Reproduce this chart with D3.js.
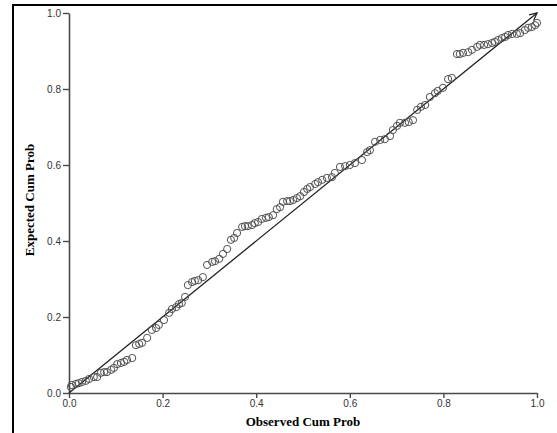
<!DOCTYPE html>
<html>
<head>
<meta charset="utf-8">
<script src="https://cdn.jsdelivr.net/npm/d3@7"></script>
<style>
  body { margin: 0; background: #fff; }
  svg { display: block; }
</style>
</head>
<body>
<div id="chart"></div>
<script>
var w = 557, h = 433;

// observed cumulative probability (x) and expected cumulative probability (y)
var obsProb = [0.004, 0.006, 0.015, 0.021, 0.028, 0.036, 0.043, 0.053, 0.060, 0.068,
  0.075, 0.081, 0.090, 0.096, 0.103, 0.111, 0.118, 0.124, 0.135, 0.143,
  0.150, 0.156, 0.167, 0.177, 0.186, 0.192, 0.203, 0.214, 0.220, 0.229,
  0.235, 0.241, 0.248, 0.254, 0.263, 0.269, 0.276, 0.286, 0.295, 0.306,
  0.312, 0.321, 0.329, 0.338, 0.346, 0.353, 0.359, 0.370, 0.376, 0.382,
  0.391, 0.397, 0.404, 0.412, 0.421, 0.427, 0.436, 0.444, 0.451, 0.457,
  0.466, 0.472, 0.479, 0.487, 0.494, 0.502, 0.509, 0.515, 0.526, 0.532,
  0.541, 0.551, 0.562, 0.568, 0.579, 0.590, 0.600, 0.611, 0.626, 0.637,
  0.643, 0.654, 0.665, 0.675, 0.686, 0.692, 0.701, 0.707, 0.718, 0.726,
  0.735, 0.744, 0.752, 0.761, 0.771, 0.782, 0.788, 0.799, 0.810, 0.818,
  0.829, 0.835, 0.842, 0.853, 0.861, 0.872, 0.878, 0.887, 0.895, 0.904,
  0.910, 0.917, 0.925, 0.932, 0.938, 0.947, 0.957, 0.964, 0.974, 0.981,
  0.989, 0.996, 1.000];
var expProb = [0.016, 0.021, 0.024, 0.026, 0.029, 0.032, 0.037, 0.042, 0.042, 0.053,
  0.055, 0.055, 0.061, 0.066, 0.076, 0.079, 0.082, 0.087, 0.092, 0.126,
  0.129, 0.132, 0.145, 0.166, 0.171, 0.179, 0.192, 0.211, 0.221, 0.226,
  0.234, 0.237, 0.253, 0.284, 0.292, 0.295, 0.297, 0.305, 0.337, 0.345,
  0.347, 0.353, 0.366, 0.379, 0.403, 0.408, 0.421, 0.437, 0.439, 0.439,
  0.442, 0.447, 0.450, 0.458, 0.461, 0.463, 0.468, 0.484, 0.489, 0.503,
  0.505, 0.505, 0.508, 0.513, 0.518, 0.529, 0.537, 0.542, 0.550, 0.555,
  0.561, 0.566, 0.568, 0.579, 0.595, 0.597, 0.600, 0.605, 0.613, 0.634,
  0.639, 0.661, 0.666, 0.668, 0.676, 0.692, 0.703, 0.711, 0.711, 0.713,
  0.718, 0.745, 0.753, 0.758, 0.779, 0.789, 0.795, 0.803, 0.826, 0.829,
  0.892, 0.892, 0.895, 0.897, 0.903, 0.911, 0.916, 0.916, 0.918, 0.921,
  0.924, 0.929, 0.934, 0.937, 0.942, 0.945, 0.945, 0.947, 0.955, 0.961,
  0.963, 0.968, 0.974];

var xTicks = [0, 0.2, 0.4, 0.6, 0.8, 1.0];
var yTicks = [0, 0.2, 0.4, 0.6, 0.8, 1.0];
var diagonal = [0, 1];

var svg = d3.select("#chart").append("svg").attr("width", w).attr("height", h);

// outer frame (cut off on the right and bottom)
svg.append("rect").attr("x", 13).attr("y", 5).attr("width", 700).attr("height", 600)
  .attr("fill", "none").attr("stroke", "#000").attr("stroke-width", 2);

var x = d3.scaleLinear().domain([0, 1]).range([69, 537]);
var y = d3.scaleLinear().domain([0, 1]).range([393, 13]);

var xAxis = svg.append("g").attr("transform", "translate(0,393)")
  .call(d3.axisBottom(x).tickValues(xTicks).tickFormat(d3.format(".1f")).tickSize(5).tickSizeOuter(0).tickPadding(2));
var yAxis = svg.append("g").attr("transform", "translate(69,0)")
  .call(d3.axisLeft(y).tickValues(yTicks).tickFormat(d3.format(".1f")).tickSize(6).tickSizeOuter(0).tickPadding(2));

[xAxis, yAxis].forEach(function (ax) {
  ax.select(".domain").attr("stroke", "#4a4a4a").attr("stroke-width", 1.6);
  ax.selectAll(".tick line").attr("stroke", "#4a4a4a").attr("stroke-width", 1.4);
  ax.selectAll(".tick text").attr("fill", "#333").style("font-family", "Liberation Sans, Arial, sans-serif").style("font-size", "10px");
});

// reference line with arrow head
var line = d3.line().x(function (d) { return x(d); }).y(function (d) { return y(d); });
svg.append("defs").append("marker").attr("id", "arr")
  .attr("viewBox", "0 0 10 10").attr("refX", 9).attr("refY", 5)
  .attr("markerWidth", 7).attr("markerHeight", 7).attr("orient", "auto")
  .append("path").attr("d", "M1,1 L9,5 L1,9").attr("fill", "none").attr("stroke", "#222").attr("stroke-width", 1.4);
svg.append("path").datum(diagonal).attr("d", line)
  .attr("fill", "none").attr("stroke", "#222").attr("stroke-width", 1.3)
  .attr("marker-end", "url(#arr)");

svg.append("g").selectAll("circle").data(obsProb).enter().append("circle")
  .attr("cx", function (d) { return x(d); })
  .attr("cy", function (d, i) { return y(expProb[i]); })
  .attr("r", 3.6)
  .attr("fill", "none").attr("stroke", "#505050").attr("stroke-width", 1);

svg.append("text").attr("x", 303).attr("y", 426).attr("text-anchor", "middle")
  .style("font-family", "Liberation Serif, Times New Roman, serif").style("font-weight", "bold").style("font-size", "13px")
  .text("Observed Cum Prob");
svg.append("text").attr("transform", "translate(34,200) rotate(-90)").attr("text-anchor", "middle")
  .style("font-family", "Liberation Serif, Times New Roman, serif").style("font-weight", "bold").style("font-size", "13px")
  .text("Expected Cum Prob");
</script>
</body>
</html>
